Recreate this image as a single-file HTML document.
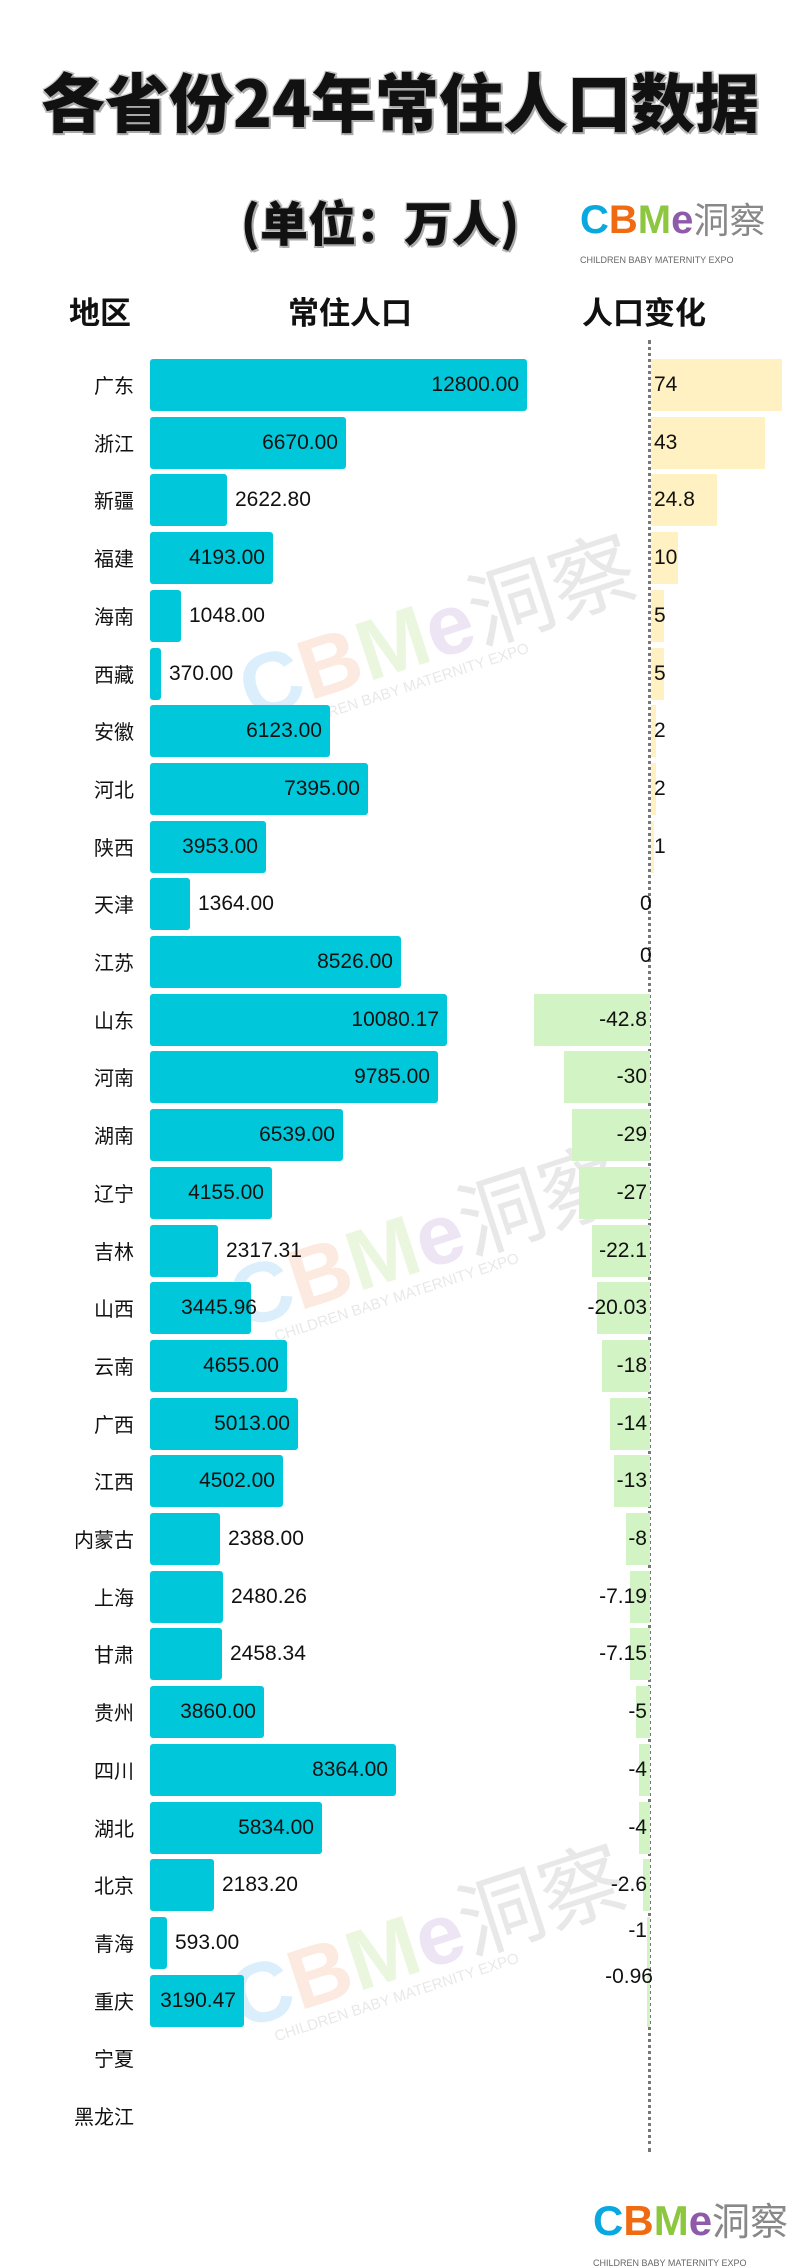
<!DOCTYPE html>
<html><head><meta charset="utf-8"><style>
body{margin:0;background:#fff;}
#c{position:relative;width:800px;height:2266px;overflow:hidden;font-family:"Liberation Sans","Noto Sans CJK SC",sans-serif;color:#111;}
.t{position:absolute;left:0;width:800px;text-align:center;font-weight:900;font-family:"Noto Sans CJK SC","WenQuanYi Zen Hei",sans-serif;text-shadow:2px 2px 0 #aaa,-1px -1px 0 #ccc,2px -1px 0 #bbb,-1px 2px 0 #bbb;}
.h{position:absolute;top:288px;font-size:31px;font-weight:700;font-family:"Noto Sans CJK SC",sans-serif;}
.r{position:absolute;left:0;width:800px;height:52px;font-size:21px;}
.n{position:absolute;right:666px;top:0;line-height:52px;font-family:"Noto Sans CJK SC",sans-serif;font-size:20px;}
.b{position:absolute;left:150px;top:0;height:52px;background:#00C8DA;border-radius:3px;}
.b span{position:absolute;right:8px;line-height:52px;}
.v{position:absolute;line-height:52px;}
.p{position:absolute;left:651px;top:0;height:52px;background:#FFF1C2;}
.m{position:absolute;right:150px;top:0;height:52px;background:#D2F3C3;}
.pl{position:absolute;left:654px;line-height:52px;}
.ml{position:absolute;right:153px;line-height:52px;}
.ax{position:absolute;left:648px;top:340px;height:1812px;border-left:3px dotted #777;}
.wm{position:absolute;font-weight:900;font-size:85px;opacity:.22;transform:rotate(-18deg);font-family:"Liberation Sans",sans-serif;white-space:nowrap;}
.wm small{display:block;font-size:15px;font-weight:400;color:#999;margin-top:-16px;margin-left:30px;}
.logo{position:absolute;font-weight:900;font-family:"Liberation Sans",sans-serif;white-space:nowrap;}
.logo small{display:block;font-size:9px;font-weight:400;color:#666;}
</style></head><body><div id="c">
<div class="t" style="top:55px;font-size:64px;line-height:90px;">各省份24年常住人口数据</div>
<div class="t" style="top:188px;left:-20px;font-size:48px;line-height:64px;">(单位：万人)</div>
<div class="logo" style="left:580px;top:198px;font-size:40px;line-height:40px;"><span style="color:#0AA8E0">C</span><span style="color:#F06A12">B</span><span style="color:#8DC63F">M</span><span style="color:#8E5BAA">e</span><span style="color:#888;font-family:'Noto Sans CJK SC',sans-serif;font-weight:400;font-size:36px">洞察</span><small>CHILDREN BABY MATERNITY EXPO</small></div>

<div class="wm" style="left:230px;top:560px;"><span style="color:#5ab8f0">C</span><span style="color:#f5a070">B</span><span style="color:#a8d870">M</span><span style="color:#b08ad0">e</span><span style="color:#999;font-family:'Noto Sans CJK SC',sans-serif;font-weight:400">洞察</span><small>CHILDREN BABY MATERNITY EXPO</small></div>
<div class="wm" style="left:220px;top:1170px;"><span style="color:#5ab8f0">C</span><span style="color:#f5a070">B</span><span style="color:#a8d870">M</span><span style="color:#b08ad0">e</span><span style="color:#999;font-family:'Noto Sans CJK SC',sans-serif;font-weight:400">洞察</span><small>CHILDREN BABY MATERNITY EXPO</small></div>
<div class="wm" style="left:220px;top:1870px;"><span style="color:#5ab8f0">C</span><span style="color:#f5a070">B</span><span style="color:#a8d870">M</span><span style="color:#b08ad0">e</span><span style="color:#999;font-family:'Noto Sans CJK SC',sans-serif;font-weight:400">洞察</span><small>CHILDREN BABY MATERNITY EXPO</small></div>

<div class="h" style="left:69px;">地区</div>
<div class="h" style="left:288px;">常住人口</div>
<div class="h" style="left:582px;">人口变化</div>
<div class="ax"></div>

<div class="r" style="top:359px"><span class="n">广东</span><div class="b" style="width:377px"><span>12800.00</span></div><div class="p" style="width:131px"></div><span class="pl">74</span></div>
<div class="r" style="top:417px"><span class="n">浙江</span><div class="b" style="width:196px"><span>6670.00</span></div><div class="p" style="width:114px"></div><span class="pl">43</span></div>
<div class="r" style="top:474px"><span class="n">新疆</span><div class="b" style="width:77px"></div><span class="v" style="left:235px">2622.80</span><div class="p" style="width:66px"></div><span class="pl">24.8</span></div>
<div class="r" style="top:532px"><span class="n">福建</span><div class="b" style="width:123px"><span>4193.00</span></div><div class="p" style="width:27px"></div><span class="pl">10</span></div>
<div class="r" style="top:590px"><span class="n">海南</span><div class="b" style="width:31px"></div><span class="v" style="left:189px">1048.00</span><div class="p" style="width:13px"></div><span class="pl">5</span></div>
<div class="r" style="top:648px"><span class="n">西藏</span><div class="b" style="width:11px"></div><span class="v" style="left:169px">370.00</span><div class="p" style="width:13px"></div><span class="pl">5</span></div>
<div class="r" style="top:705px"><span class="n">安徽</span><div class="b" style="width:180px"><span>6123.00</span></div><div class="p" style="width:5px"></div><span class="pl">2</span></div>
<div class="r" style="top:763px"><span class="n">河北</span><div class="b" style="width:218px"><span>7395.00</span></div><div class="p" style="width:5px"></div><span class="pl">2</span></div>
<div class="r" style="top:821px"><span class="n">陕西</span><div class="b" style="width:116px"><span>3953.00</span></div><div class="p" style="width:3px"></div><span class="pl">1</span></div>
<div class="r" style="top:878px"><span class="n">天津</span><div class="b" style="width:40px"></div><span class="v" style="left:198px">1364.00</span><span class="pl" style="left:640px">0</span></div>
<div class="r" style="top:936px"><span class="n">江苏</span><div class="b" style="width:251px"><span>8526.00</span></div><span class="pl" style="left:640px;top:-6px">0</span></div>
<div class="r" style="top:994px"><span class="n">山东</span><div class="b" style="width:297px"><span>10080.17</span></div><div class="m" style="width:116px"></div><span class="ml">-42.8</span></div>
<div class="r" style="top:1051px"><span class="n">河南</span><div class="b" style="width:288px"><span>9785.00</span></div><div class="m" style="width:86px"></div><span class="ml">-30</span></div>
<div class="r" style="top:1109px"><span class="n">湖南</span><div class="b" style="width:193px"><span>6539.00</span></div><div class="m" style="width:78px"></div><span class="ml">-29</span></div>
<div class="r" style="top:1167px"><span class="n">辽宁</span><div class="b" style="width:122px"><span>4155.00</span></div><div class="m" style="width:71px"></div><span class="ml">-27</span></div>
<div class="r" style="top:1225px"><span class="n">吉林</span><div class="b" style="width:68px"></div><span class="v" style="left:226px">2317.31</span><div class="m" style="width:58px"></div><span class="ml">-22.1</span></div>
<div class="r" style="top:1282px"><span class="n">山西</span><div class="b" style="width:101px"><span style="right:-6px">3445.96</span></div><div class="m" style="width:53px"></div><span class="ml">-20.03</span></div>
<div class="r" style="top:1340px"><span class="n">云南</span><div class="b" style="width:137px"><span>4655.00</span></div><div class="m" style="width:48px"></div><span class="ml">-18</span></div>
<div class="r" style="top:1398px"><span class="n">广西</span><div class="b" style="width:148px"><span>5013.00</span></div><div class="m" style="width:40px"></div><span class="ml">-14</span></div>
<div class="r" style="top:1455px"><span class="n">江西</span><div class="b" style="width:133px"><span>4502.00</span></div><div class="m" style="width:36px"></div><span class="ml">-13</span></div>
<div class="r" style="top:1513px"><span class="n">内蒙古</span><div class="b" style="width:70px"></div><span class="v" style="left:228px">2388.00</span><div class="m" style="width:24px"></div><span class="ml">-8</span></div>
<div class="r" style="top:1571px"><span class="n">上海</span><div class="b" style="width:73px"></div><span class="v" style="left:231px">2480.26</span><div class="m" style="width:20px"></div><span class="ml">-7.19</span></div>
<div class="r" style="top:1628px"><span class="n">甘肃</span><div class="b" style="width:72px"></div><span class="v" style="left:230px">2458.34</span><div class="m" style="width:20px"></div><span class="ml">-7.15</span></div>
<div class="r" style="top:1686px"><span class="n">贵州</span><div class="b" style="width:114px"><span>3860.00</span></div><div class="m" style="width:14px"></div><span class="ml">-5</span></div>
<div class="r" style="top:1744px"><span class="n">四川</span><div class="b" style="width:246px"><span>8364.00</span></div><div class="m" style="width:11px"></div><span class="ml">-4</span></div>
<div class="r" style="top:1802px"><span class="n">湖北</span><div class="b" style="width:172px"><span>5834.00</span></div><div class="m" style="width:11px"></div><span class="ml">-4</span></div>
<div class="r" style="top:1859px"><span class="n">北京</span><div class="b" style="width:64px"></div><span class="v" style="left:222px">2183.20</span><div class="m" style="width:7px"></div><span class="ml">-2.6</span></div>
<div class="r" style="top:1917px"><span class="n">青海</span><div class="b" style="width:17px"></div><span class="v" style="left:175px">593.00</span><div class="m" style="width:3px"></div><span class="ml" style="top:-12px">-1</span></div>
<div class="r" style="top:1975px"><span class="n">重庆</span><div class="b" style="width:94px"><span>3190.47</span></div><div class="m" style="width:3px"></div><span class="ml" style="top:-24px;right:147px">-0.96</span></div>
<div class="r" style="top:2032px"><span class="n">宁夏</span></div>
<div class="r" style="top:2090px"><span class="n">黑龙江</span></div>

<div class="logo" style="left:593px;top:2198px;font-size:42px;line-height:42px;"><span style="color:#0AA8E0">C</span><span style="color:#F06A12">B</span><span style="color:#8DC63F">M</span><span style="color:#8E5BAA">e</span><span style="color:#888;font-family:'Noto Sans CJK SC',sans-serif;font-weight:400;font-size:38px">洞察</span><small>CHILDREN BABY MATERNITY EXPO</small></div>
</div></body></html>
